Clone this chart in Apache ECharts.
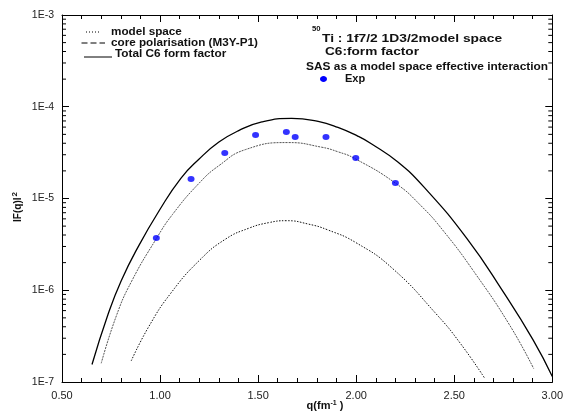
<!DOCTYPE html>
<html>
<head>
<meta charset="utf-8">
<script src="https://cdn.jsdelivr.net/npm/echarts@6/dist/echarts.min.js"></script>
<style>
  html, body { margin: 0; padding: 0; background: #fff; }
  #chart { width: 566px; height: 418px; }
</style>
</head>
<body>
<div id="chart"></div>
<script>
// C6 form factor of 50Ti, |F(q)|^2 versus momentum transfer q (fm^-1)

// Total C6 form factor
const totalQ = [0.653, 0.734, 0.802, 0.891, 0.996, 1.106, 1.198, 1.300, 1.401, 1.519, 1.671, 1.806, 1.907, 2.008, 2.075, 2.211, 2.346, 2.565, 2.750, 2.902, 3.000];
const totalF = [1.55e-7, 5.4e-7, 1.27e-6, 3.05e-6, 7.4e-6, 1.66e-5, 2.68e-5, 4.12e-5, 5.50e-5, 6.84e-5, 7.48e-5, 6.92e-5, 5.96e-5, 4.79e-5, 3.98e-5, 2.51e-5, 1.33e-5, 3.65e-6, 9.6e-7, 2.88e-7, 1.15e-7];

// Model space contribution
const modelQ = [0.700, 0.777, 0.853, 0.982, 1.063, 1.198, 1.300, 1.435, 1.654, 1.822, 1.907, 1.991, 2.202, 2.329, 2.447, 2.600, 2.784, 2.905];
const modelF = [1.6e-7, 5.25e-7, 1.23e-6, 3.68e-6, 6.68e-6, 1.46e-5, 2.28e-5, 3.41e-5, 4.07e-5, 3.63e-5, 3.23e-5, 2.74e-5, 1.46e-5, 8.4e-6, 4.37e-6, 1.6e-6, 4.12e-7, 1.4e-7];

// Core polarisation contribution (M3Y-P1)
const coreQ = [0.853, 0.942, 1.055, 1.203, 1.333, 1.451, 1.553, 1.645, 1.755, 1.856, 1.999, 2.185, 2.413, 2.531, 2.654];
const coreF = [1.7e-7, 4.0e-7, 9.3e-7, 2.14e-6, 3.6e-6, 4.73e-6, 5.45e-6, 5.73e-6, 5.27e-6, 4.54e-6, 3.3e-6, 1.73e-6, 5.37e-7, 2.64e-7, 1.11e-7];

// Experimental points
const expQ = [0.981, 1.158, 1.330, 1.487, 1.644, 1.689, 1.846, 1.998, 2.200];
const expF = [3.7e-6, 1.63e-5, 3.13e-5, 4.92e-5, 5.31e-5, 4.68e-5, 4.68e-5, 2.76e-5, 1.48e-5];

// Axis ranges and tick labels
const qMin = 0.5, qMax = 3.0, qStep = 0.5;
const fMin = 1e-7, fMax = 1e-3;
const yTickLabels = { '-7': '1E-7', '-6': '1E-6', '-5': '1E-5', '-4': '1E-4', '-3': '1E-3' };

// Log minor ticks 2..9 inside each decade
const yMinorTicks = [];
for (let e = -7; e <= -4; e++) {
  for (let k = 2; k <= 9; k++) yMinorTicks.push(k * Math.pow(10, e));
}

const FONT = 'Liberation Sans, Arial, sans-serif';
const pairs = (xs, ys) => xs.map((x, i) => [x, ys[i]]);

const chart = echarts.init(document.getElementById('chart'), null, { renderer: 'canvas' });

const xAxisBase = {
  type: 'value', min: qMin, max: qMax, interval: qStep,
  axisLine: { show: true, onZero: false, lineStyle: { color: '#000', width: 1 } },
  axisTick: { show: true, inside: true, length: 7, lineStyle: { color: '#000', width: 1 } },
  minorTick: { show: true, splitNumber: 5, length: 4, lineStyle: { color: '#000', width: 1 } },
  splitLine: { show: false }
};
const yAxisBase = {
  type: 'log', logBase: 10, min: fMin, max: fMax,
  axisLine: { show: true, onZero: false, lineStyle: { color: '#000', width: 1 } },
  axisTick: { show: true, inside: true, length: 7, lineStyle: { color: '#000', width: 1 } },
  minorTick: { show: false },
  splitLine: { show: false }
};

// bold annotation text, slightly widened like the rest of the lettering
const boldText = (text, x, y, size, scaleX) => ({
  type: 'text', x: x, y: y, scaleX: scaleX || 1, scaleY: 1,
  style: { text: text, font: 'bold ' + size + 'px ' + FONT, fill: '#111', verticalAlign: 'middle', align: 'left' }
});

chart.setOption({
  animation: false,
  backgroundColor: '#fff',
  grid: { left: 62, right: 10, top: 15, bottom: 36, containLabel: false },
  xAxis: [
    Object.assign({}, xAxisBase, {
      position: 'bottom',
      axisLabel: { show: true, formatter: v => v.toFixed(2), fontSize: 11, color: '#222', margin: 8, fontFamily: FONT }
    }),
    Object.assign({}, xAxisBase, { position: 'top', axisLabel: { show: false } })
  ],
  yAxis: [
    Object.assign({}, yAxisBase, {
      position: 'left',
      axisLabel: { show: true, formatter: v => yTickLabels[String(Math.round(Math.log10(v)))] || '', fontSize: 10.5, color: '#222', margin: 8, fontFamily: FONT }
    }),
    Object.assign({}, yAxisBase, { position: 'right', axisLabel: { show: false } })
  ],
  series: [
    {
      name: 'Total C6 form factor', type: 'line', xAxisIndex: 0, yAxisIndex: 0,
      data: pairs(totalQ, totalF), showSymbol: false, smooth: 0.5, silent: true,
      lineStyle: { color: '#000', width: 1.3 }
    },
    {
      name: 'model space', type: 'line', xAxisIndex: 0, yAxisIndex: 0,
      data: pairs(modelQ, modelF), showSymbol: false, smooth: 0.5, silent: true,
      lineStyle: { color: '#555', width: 1, type: [2, 1] }
    },
    {
      name: 'core polarisation (M3Y-P1)', type: 'line', xAxisIndex: 0, yAxisIndex: 0,
      data: pairs(coreQ, coreF), showSymbol: false, smooth: 0.5, silent: true,
      lineStyle: { color: '#111', width: 1, type: [1.5, 1.5] }
    },
    {
      name: 'Exp', type: 'scatter', xAxisIndex: 0, yAxisIndex: 0,
      data: pairs(expQ, expF), symbol: 'circle', symbolSize: [7, 6], z: 5,
      itemStyle: { color: '#0000ff' }
    },
    {
      // minor log ticks on the left and right frame
      type: 'custom', xAxisIndex: 0, yAxisIndex: 0, silent: true, clip: false,
      data: yMinorTicks.map(v => [qMin, v]),
      encode: { x: 0, y: 1 },
      renderItem: (params, api) => {
        const v = api.value(1);
        const l = api.coord([qMin, v]);
        const r = api.coord([qMax, v]);
        return {
          type: 'group',
          children: [
            { type: 'line', shape: { x1: l[0], y1: l[1], x2: l[0] + 4, y2: l[1] }, style: { stroke: '#000', lineWidth: 1 } },
            { type: 'line', shape: { x1: r[0] - 4, y1: r[1], x2: r[0], y2: r[1] }, style: { stroke: '#000', lineWidth: 1 } }
          ]
        };
      }
    }
  ],
  graphic: [
    // line-style key, top left
    { type: 'line', shape: { x1: 86, y1: 32, x2: 100, y2: 32 }, style: { stroke: '#000', lineWidth: 1, lineDash: [1, 2] } },
    boldText('model space', 111, 32, 10, 1.17),
    { type: 'line', shape: { x1: 81.5, y1: 43, x2: 105, y2: 43 }, style: { stroke: '#000', lineWidth: 1, lineDash: [6, 3] } },
    boldText('core polarisation (M3Y-P1)', 111, 43, 10, 1.17),
    { type: 'line', shape: { x1: 84, y1: 57, x2: 112, y2: 57 }, style: { stroke: '#000', lineWidth: 1 } },
    boldText('Total C6 form factor', 115, 54, 10, 1.18),

    // description block, top right
    boldText('50', 312, 29, 7, 1.1),
    boldText('Ti : 1f7/2 1D3/2model space', 322, 39, 11, 1.255),
    boldText('C6:form factor', 325, 52, 11, 1.24),
    boldText('SAS as a model space effective interaction', 306, 67, 10, 1.19),
    { type: 'ellipse', shape: { cx: 323.5, cy: 79, rx: 3.5, ry: 3 }, style: { fill: '#0000ff' } },
    boldText('Exp', 345, 79, 10.5, 1.05),

    // axis titles
    {
      type: 'text', x: 325, y: 406,
      style: {
        text: '{b|q(fm}{s|-1}{b| )}',
        align: 'center', verticalAlign: 'middle',
        rich: {
          b: { font: 'bold 11px ' + FONT, fill: '#111' },
          s: { font: 'bold 7px ' + FONT, fill: '#111', verticalAlign: 'top', padding: [0, 0, 6, 0] }
        }
      }
    },
    {
      type: 'text', x: 18, y: 207, rotation: Math.PI / 2,
      style: {
        text: '{b|IF(q)I}{s|2}',
        align: 'center', verticalAlign: 'middle',
        rich: {
          b: { font: 'bold 10px ' + FONT, fill: '#111' },
          s: { font: 'bold 8px ' + FONT, fill: '#111', verticalAlign: 'top', padding: [0, 0, 7, 1] }
        }
      }
    }
  ]
});
</script>
</body>
</html>
